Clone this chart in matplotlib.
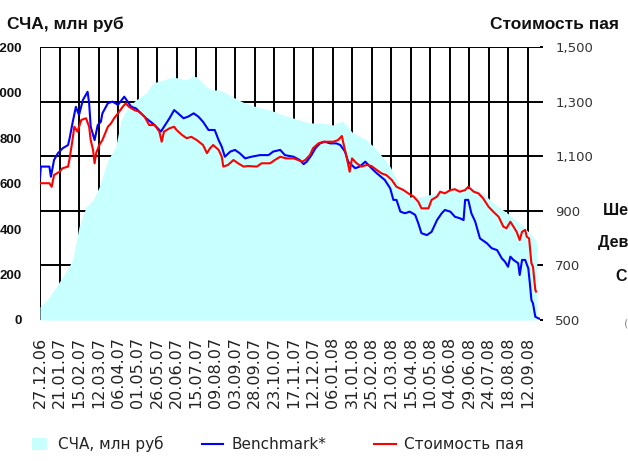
import matplotlib
matplotlib.use('Agg')
import matplotlib.pyplot as plt
from matplotlib.lines import Line2D
from matplotlib.patches import Rectangle
from matplotlib.ticker import FuncFormatter

W, H = 628, 461

# ---------------- data ----------------
date_labels = ['27.12.06', '21.01.07', '15.02.07', '12.03.07', '06.04.07', '01.05.07',
               '26.05.07', '20.06.07', '15.07.07', '09.08.07', '03.09.07', '28.09.07',
               '23.10.07', '17.11.07', '12.12.07', '06.01.08', '31.01.08', '25.02.08',
               '21.03.08', '15.04.08', '10.05.08', '04.06.08', '29.06.08', '24.07.08',
               '18.08.08', '12.09.08']
tick_step_days = 25
total_days = 641

# NAV (СЧА, mln rub), left axis; x = days since 27.12.06
nav_days = [0, 12, 29, 42, 50, 59, 68, 76, 87, 97, 104, 113, 123, 136, 145, 158, 171, 188,
            196, 201, 214, 222, 231, 247, 260, 278, 295, 312, 333, 346, 363, 376, 388, 401,
            419, 432, 449, 462, 474, 487, 509, 529, 555, 568, 581, 599, 615, 628, 635, 637]
nav_vals = [57, 101, 189, 264, 409, 497, 528, 585, 703, 761, 879, 936, 967, 998, 1042, 1055,
            1068, 1055, 1073, 1068, 1024, 1011, 1011, 980, 958, 936, 923, 901, 879, 866, 866,
            857, 875, 822, 791, 747, 673, 585, 541, 541, 558, 571, 580, 558, 514, 470, 426,
            382, 352, 338]

# Benchmark*, right axis
bm_days = [0, 1, 12, 14, 18, 23, 29, 36, 38, 42, 46, 50, 55, 61, 63, 65, 70, 74, 78, 80, 87,
           93, 100, 108, 117, 123, 136, 147, 155, 159, 166, 172, 177, 184, 190, 197, 203, 209,
           216, 224, 229, 233, 237, 244, 250, 256, 263, 271, 282, 293, 299, 308, 314, 325,
           333, 338, 342, 348, 353, 359, 365, 372, 380, 385, 391, 395, 404, 410, 417, 425,
           432, 442, 449, 453, 457, 462, 468, 474, 481, 485, 489, 496, 502, 509, 515, 519,
           526, 532, 538, 543, 545, 549, 553, 558, 564, 573, 579, 586, 592, 596, 600, 603,
           607, 613, 615, 618, 622, 626, 628, 630, 632, 635, 639, 641]
bm_vals = [1019, 1062, 1062, 1025, 1086, 1111, 1129, 1141, 1166, 1226, 1281, 1251, 1306, 1336,
           1294, 1208, 1159, 1214, 1226, 1257, 1294, 1300, 1288, 1318, 1281, 1275, 1239, 1214,
           1190, 1208, 1239, 1269, 1257, 1239, 1245, 1257, 1245, 1226, 1196, 1196, 1159, 1135,
           1098, 1117, 1123, 1111, 1092, 1098, 1104, 1104, 1117, 1123, 1104, 1098, 1086, 1071,
           1080, 1104, 1129, 1147, 1153, 1147, 1147, 1141, 1117, 1080, 1056, 1062, 1080, 1056,
           1037, 1013, 982, 940, 940, 897, 891, 897, 885, 854, 818, 811, 823, 866, 891, 903,
           897, 878, 873, 866, 940, 940, 891, 860, 799, 781, 763, 756, 726, 714, 695, 732,
           720, 708, 665, 720, 720, 689, 634, 573, 561, 512, 506, 504]

# Unit price (Стоимость пая), right axis
unit_days = [0, 12, 15, 18, 25, 29, 36, 38, 42, 44, 48, 53, 59, 63, 65, 68, 70, 72, 76, 80,
             87, 91, 95, 100, 106, 110, 114, 121, 127, 134, 140, 147, 153, 156, 159, 166, 172,
             175, 182, 188, 194, 201, 209, 214, 218, 222, 229, 233, 235, 241, 248, 254, 261,
             267, 278, 284, 295, 301, 308, 316, 325, 331, 336, 340, 346, 350, 357, 363, 370,
             376, 382, 387, 389, 393, 397, 400, 406, 412, 419, 425, 432, 438, 444, 451, 457,
             466, 472, 479, 485, 489, 498, 502, 509, 513, 519, 526, 532, 538, 545, 549, 556,
             562, 568, 575, 581, 588, 594, 598, 603, 607, 611, 615, 618, 622, 624, 627, 630,
             632, 635, 636]
unit_vals = [1001, 1001, 988, 1031, 1043, 1056, 1062, 1092, 1166, 1208, 1190, 1233, 1239, 1208,
             1159, 1123, 1074, 1111, 1141, 1159, 1208, 1220, 1239, 1257, 1281, 1294, 1281, 1269,
             1263, 1245, 1214, 1214, 1190, 1153, 1190, 1202, 1208, 1196, 1178, 1166, 1171, 1159,
             1141, 1111, 1129, 1141, 1123, 1098, 1062, 1068, 1086, 1074, 1062, 1064, 1062, 1074,
             1074, 1086, 1098, 1092, 1092, 1086, 1080, 1086, 1104, 1129, 1147, 1153, 1153, 1153,
             1159, 1174, 1147, 1098, 1043, 1092, 1074, 1062, 1068, 1064, 1049, 1037, 1031, 1013,
             988, 976, 964, 952, 933, 909, 909, 940, 952, 970, 964, 976, 979, 970, 976, 988, 970,
             964, 946, 915, 897, 878, 842, 836, 860, 842, 823, 793, 823, 830, 805, 799, 708, 695,
             610, 604]

left_ticks = [0, 200, 400, 600, 800, 1000, 1200]
right_ticks = [500, 700, 900, 1100, 1300, 1500]

# ---------------- figure ----------------
fig = plt.figure(figsize=(W / 100, H / 100), dpi=100)
ax = fig.add_axes([40 / W, 1 - 320 / H, 500 / W, 273 / H])
ax2 = ax.twinx()

ax.set_xlim(0, total_days)
ax.set_ylim(left_ticks[0], left_ticks[-1])
ax2.set_ylim(right_ticks[0], right_ticks[-1])
ax.patch.set_visible(False)

for a in (ax, ax2):
    for s in a.spines.values():
        s.set_visible(False)

grid_kw = dict(color='black', lw=1.4)
# vertical grid at date ticks
xt = [i * tick_step_days for i in range(len(date_labels))]
ax.set_xticks(xt)
ax.set_xticklabels(date_labels, rotation=90, family='DejaVu Sans', fontsize=11.5,
                   color='#222222', va='top', ha='center')
ax.tick_params(axis='x', length=0, pad=12)
ax.set_axisbelow(True)
ax.grid(axis='x', **grid_kw)
ax.grid(axis='y', visible=False)

# horizontal grid at right-axis ticks (converted to left scale), below the area
scale = (left_ticks[-1] - left_ticks[0]) / (right_ticks[-1] - right_ticks[0])
for v in right_ticks[1:]:
    ax.axhline((v - right_ticks[0]) * scale, zorder=0.6, **grid_kw)

# area
ax.fill_between(nav_days, 0, nav_vals, color='#c8ffff', lw=0, zorder=1)

# left axis labels
ax.set_yticks(left_ticks)
ax.set_yticklabels([str(v) for v in left_ticks], family='Liberation Sans',
                   fontweight='bold', fontsize=9.5, color='#111111')
ax.tick_params(axis='y', length=0, pad=13)

# lines on right axis
ax2.plot(bm_days, bm_vals, color='#0000ff', lw=1.5, zorder=3)
ax2.plot(unit_days, unit_vals, color='#ff0000', lw=1.5, zorder=4)
ax2.set_yticks(right_ticks)
ax2.yaxis.set_major_formatter(FuncFormatter(lambda v, p: f'{int(v):,}'))
ax2.tick_params(axis='y', length=2, width=1.4, color='black', pad=9,
                labelsize=9.5, labelcolor='#333333')
for lab in ax2.get_yticklabels():
    lab.set_family('DejaVu Sans')

# titles
fig.text(7 / W, 1 - 29 / H, 'СЧА, млн руб', family='Liberation Sans', fontweight='bold',
         fontsize=12.5, ha='left', va='baseline', color='#111111')
fig.text(619 / W, 1 - 29 / H, 'Стоимость пая', family='Liberation Sans', fontweight='bold',
         fontsize=12.5, ha='right', va='baseline', color='#111111')

# side texts, cut by the right edge as in the reference
side_kw = dict(family='Liberation Sans', fontweight='bold', fontsize=11.5, color='#111111',
               ha='left', va='center')
fig.text(603 / W, 1 - 210 / H, 'Шесть месяцев', **side_kw)
fig.text(598 / W, 1 - 243 / H, 'Девять месяцев', **side_kw)
fig.text(616 / W, 1 - 276 / H, 'С начала года', **side_kw)
fig.text(624 / W, 1 - 323 / H, '(', family='DejaVu Sans', fontsize=8, color='#888888',
         ha='left', va='center')

# manual legend
leg_y = 1 - 444 / H
fig.add_artist(Rectangle((32 / W, 1 - 450 / H), 15 / W, 12 / H, transform=fig.transFigure,
                         facecolor='#c8ffff', edgecolor='none'))
fig.add_artist(Line2D([202 / W, 223 / W], [leg_y, leg_y], color='#0000ff', lw=1.5,
                      transform=fig.transFigure))
fig.add_artist(Line2D([374 / W, 396 / W], [leg_y, leg_y], color='#ff0000', lw=1.5,
                      transform=fig.transFigure))
leg_kw = dict(family='DejaVu Sans', fontsize=11, color='#222222', ha='left', va='center')
fig.text(58 / W, leg_y, 'СЧА, млн руб', **leg_kw)
fig.text(232 / W, leg_y, 'Benchmark*', **leg_kw)
fig.text(404 / W, leg_y, 'Стоимость пая', **leg_kw)

fig.savefig('out.png', dpi=100)
